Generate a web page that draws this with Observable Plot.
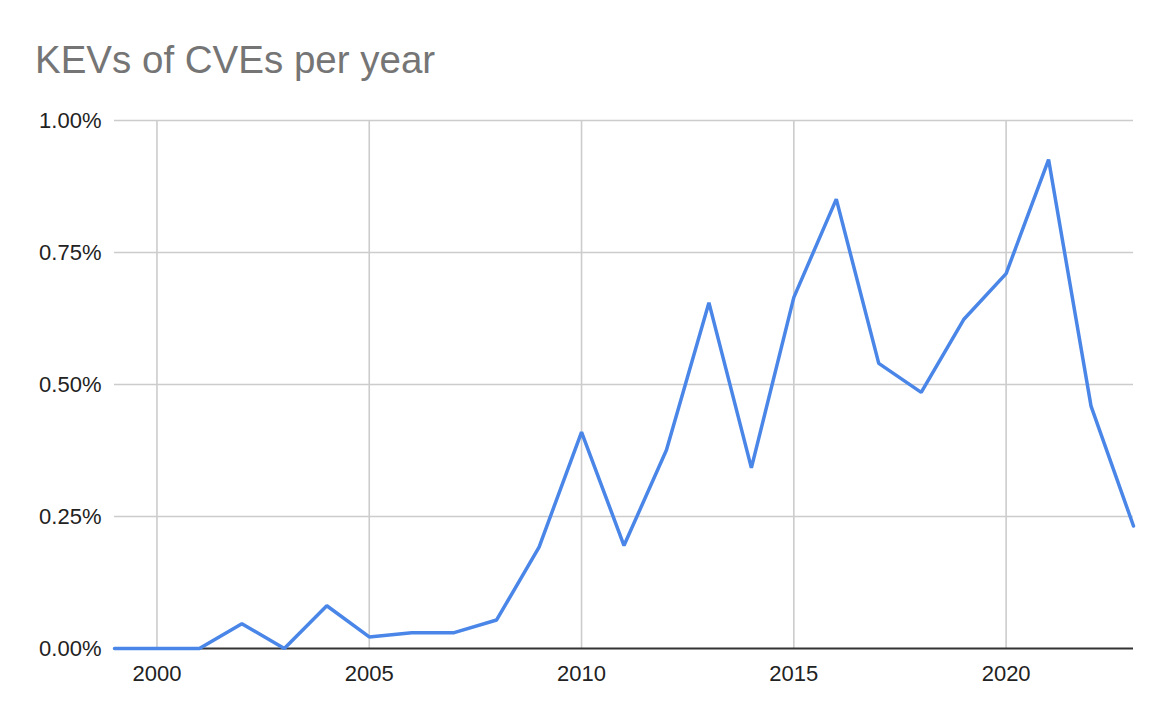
<!DOCTYPE html>
<html>
<head>
<meta charset="utf-8">
<script src="https://cdn.jsdelivr.net/npm/d3@7"></script>
<script src="https://cdn.jsdelivr.net/npm/@observablehq/plot@0.6"></script>
<style>
  html, body { margin: 0; padding: 0; background: #fff; }
  #wrap { width: 1170px; height: 723px; position: relative; overflow: hidden; }
  #title { position: absolute; left: 35px; top: 41px; font-family: "Liberation Sans", Arial, sans-serif; font-size: 38.5px; line-height: 38px; color: #757575; white-space: nowrap; }
  #chart { position: absolute; left: 0; top: 100px; }
</style>
</head>
<body>
<div id="wrap">
  <div id="title">KEVs of CVEs per year</div>
  <div id="chart"></div>
</div>
<script>
const years = [1999, 2000, 2001, 2002, 2003, 2004, 2005, 2006, 2007, 2008, 2009, 2010, 2011, 2012, 2013, 2014, 2015, 2016, 2017, 2018, 2019, 2020, 2021, 2022, 2023];
const kevShare = [0, 0, 0, 0.047, 0, 0.081, 0.022, 0.030, 0.030, 0.054, 0.192, 0.410, 0.195, 0.376, 0.655, 0.342, 0.665, 0.851, 0.540, 0.485, 0.623, 0.710, 0.926, 0.459, 0.232];
const xTicks = [2000, 2005, 2010, 2015, 2020];
const yTicks = [0, 0.25, 0.5, 0.75, 1];

const data = years.map((year, i) => ({year, value: kevShare[i]}));

const chart = Plot.plot({
  width: 1170,
  height: 623,
  marginTop: 20,
  marginBottom: 75,
  marginLeft: 114,
  marginRight: 37,
  style: {fontFamily: "'Liberation Sans', Arial, sans-serif", fontSize: "22px", color: "#222", background: "#fff", overflow: "visible"},
  x: {domain: [1999, 2023]},
  y: {domain: [0, 1]},
  marks: [
    Plot.gridX(xTicks, {stroke: "#cccccc", strokeOpacity: 1, strokeWidth: 1.6}),
    Plot.gridY(yTicks.filter(d => d > 0), {stroke: "#cccccc", strokeOpacity: 1, strokeWidth: 1.6}),
    Plot.axisX(xTicks, {tickSize: 0, tickPadding: 17, tickFormat: d => String(d), label: null, fill: "#222", fontSize: 22}),
    Plot.axisY(yTicks, {tickSize: 0, tickPadding: 13, tickFormat: d => d.toFixed(2) + "%", label: null, fill: "#222", fontSize: 22}),
    Plot.ruleY([0], {stroke: "#333", strokeWidth: 2}),
    Plot.line(data, {x: "year", y: "value", stroke: "#4a86e8", strokeWidth: 3.5, strokeLinejoin: "miter"})
  ]
});
document.getElementById("chart").appendChild(chart);
</script>
</body>
</html>
